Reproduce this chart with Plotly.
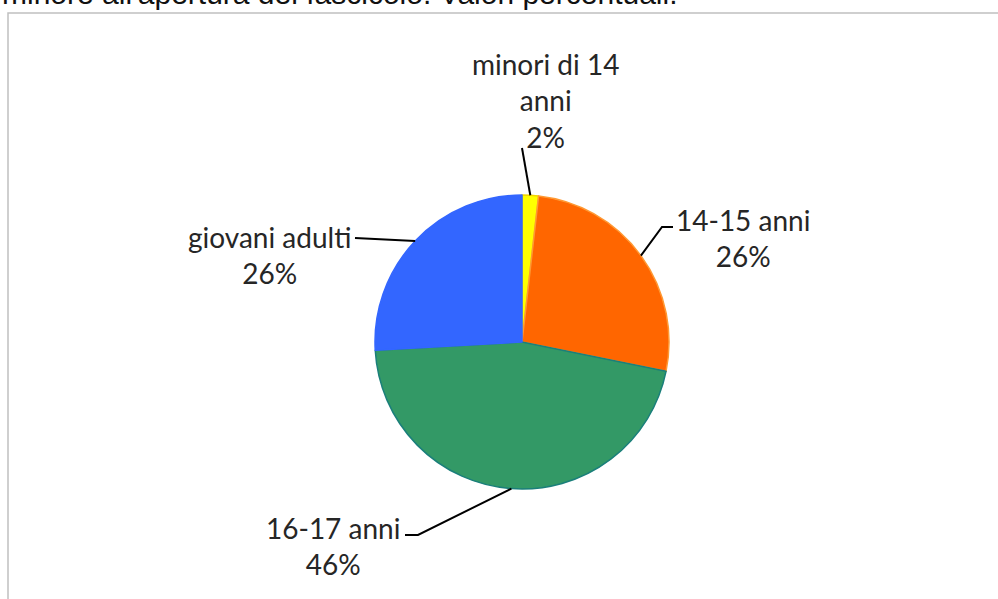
import math
import plotly.graph_objects as go

# --- data ---
categories = ["minori di 14 anni", "14-15 anni", "16-17 anni", "giovani adulti"]
label_text = ["minori di 14<br>anni", "14-15 anni", "16-17 anni", "giovani adulti"]
values = [1.8, 26.4, 45.9, 25.9]

colors = ["#FFFF00", "#FF6600", "#339966", "#3366FF"]
edge_colors = ["#F2D500", "#FF9933", "#1A7F7A", "#3366FF"]

W, H = 998, 599
CX, CY, R = 522, 342, 147   # pie centre / radius in pixels

# where each label sits and the leader line from the label toward the slice
label_layout = {
    "minori di 14 anni": dict(center=(545, 100), path=[(522, 148)]),
    "14-15 anni": dict(center=(743, 238), path=[(673, 227), (662, 227)]),
    "16-17 anni": dict(center=(333, 546), path=[(405, 535), (418, 535)]),
    "giovani adulti": dict(center=(269, 255), path=[(355, 238)]),
}


def px(x):
    return x / W


def py(y):
    return 1 - y / H


fig = go.Figure()

fig.add_trace(go.Pie(
    labels=categories,
    values=values,
    sort=False,
    direction="clockwise",
    rotation=0,
    textinfo="none",
    marker=dict(colors=colors, line=dict(color=edge_colors, width=1.5)),
    domain=dict(x=[px(CX - R), px(CX + R)], y=[py(CY + R), py(CY - R)]),
    showlegend=False,
))

# labels + leader lines
total = sum(values)
cum = 0
annotations = []
shapes = []
for cat, txt, v in zip(categories, label_text, values):
    mid = (cum + v / 2) / total * 2 * math.pi
    cum += v
    tip = (CX + R * math.sin(mid), CY - R * math.cos(mid))
    pct = round(v / total * 100)
    lay = label_layout[cat]
    annotations.append(dict(
        x=px(lay["center"][0]), y=py(lay["center"][1]),
        xref="paper", yref="paper", xanchor="center", yanchor="middle",
        showarrow=False,
        text=f"{txt}<br>{pct}%",
        font=dict(family="Lato", size=28, color="#262626"),
        align="center",
    ))
    pts = lay["path"] + [tip]
    d = "M " + " L ".join(f"{px(a)},{py(b)}" for a, b in pts)
    shapes.append(dict(type="path", path=d, xref="paper", yref="paper",
                       line=dict(color="#000000", width=2)))

# chart frame (only left and top edges are visible in the crop)
shapes.append(dict(type="path", xref="paper", yref="paper",
                   path=f"M {px(8)},{py(620)} L {px(8)},{py(13)} L {px(1010)},{py(13)}",
                   line=dict(color="#C0C0C0", width=1.5)))

# cut-off caption above the chart
annotations.append(dict(
    x=0, y=py(12), xref="paper", yref="paper", xanchor="left", yanchor="bottom",
    showarrow=False, text="minore all'apertura del fascicolo. Valori percentuali.",
    font=dict(family="Liberation Sans", size=30, color="#111111"),
))

fig.update_layout(
    width=W, height=H,
    margin=dict(l=0, r=0, t=0, b=0),
    paper_bgcolor="white",
    plot_bgcolor="white",
    annotations=annotations,
    shapes=shapes,
)

# page default margin would shift the whole figure by 8px
fig.write_html("out.html", config={"displayModeBar": False},
               post_script="document.body.style.margin='0';")
